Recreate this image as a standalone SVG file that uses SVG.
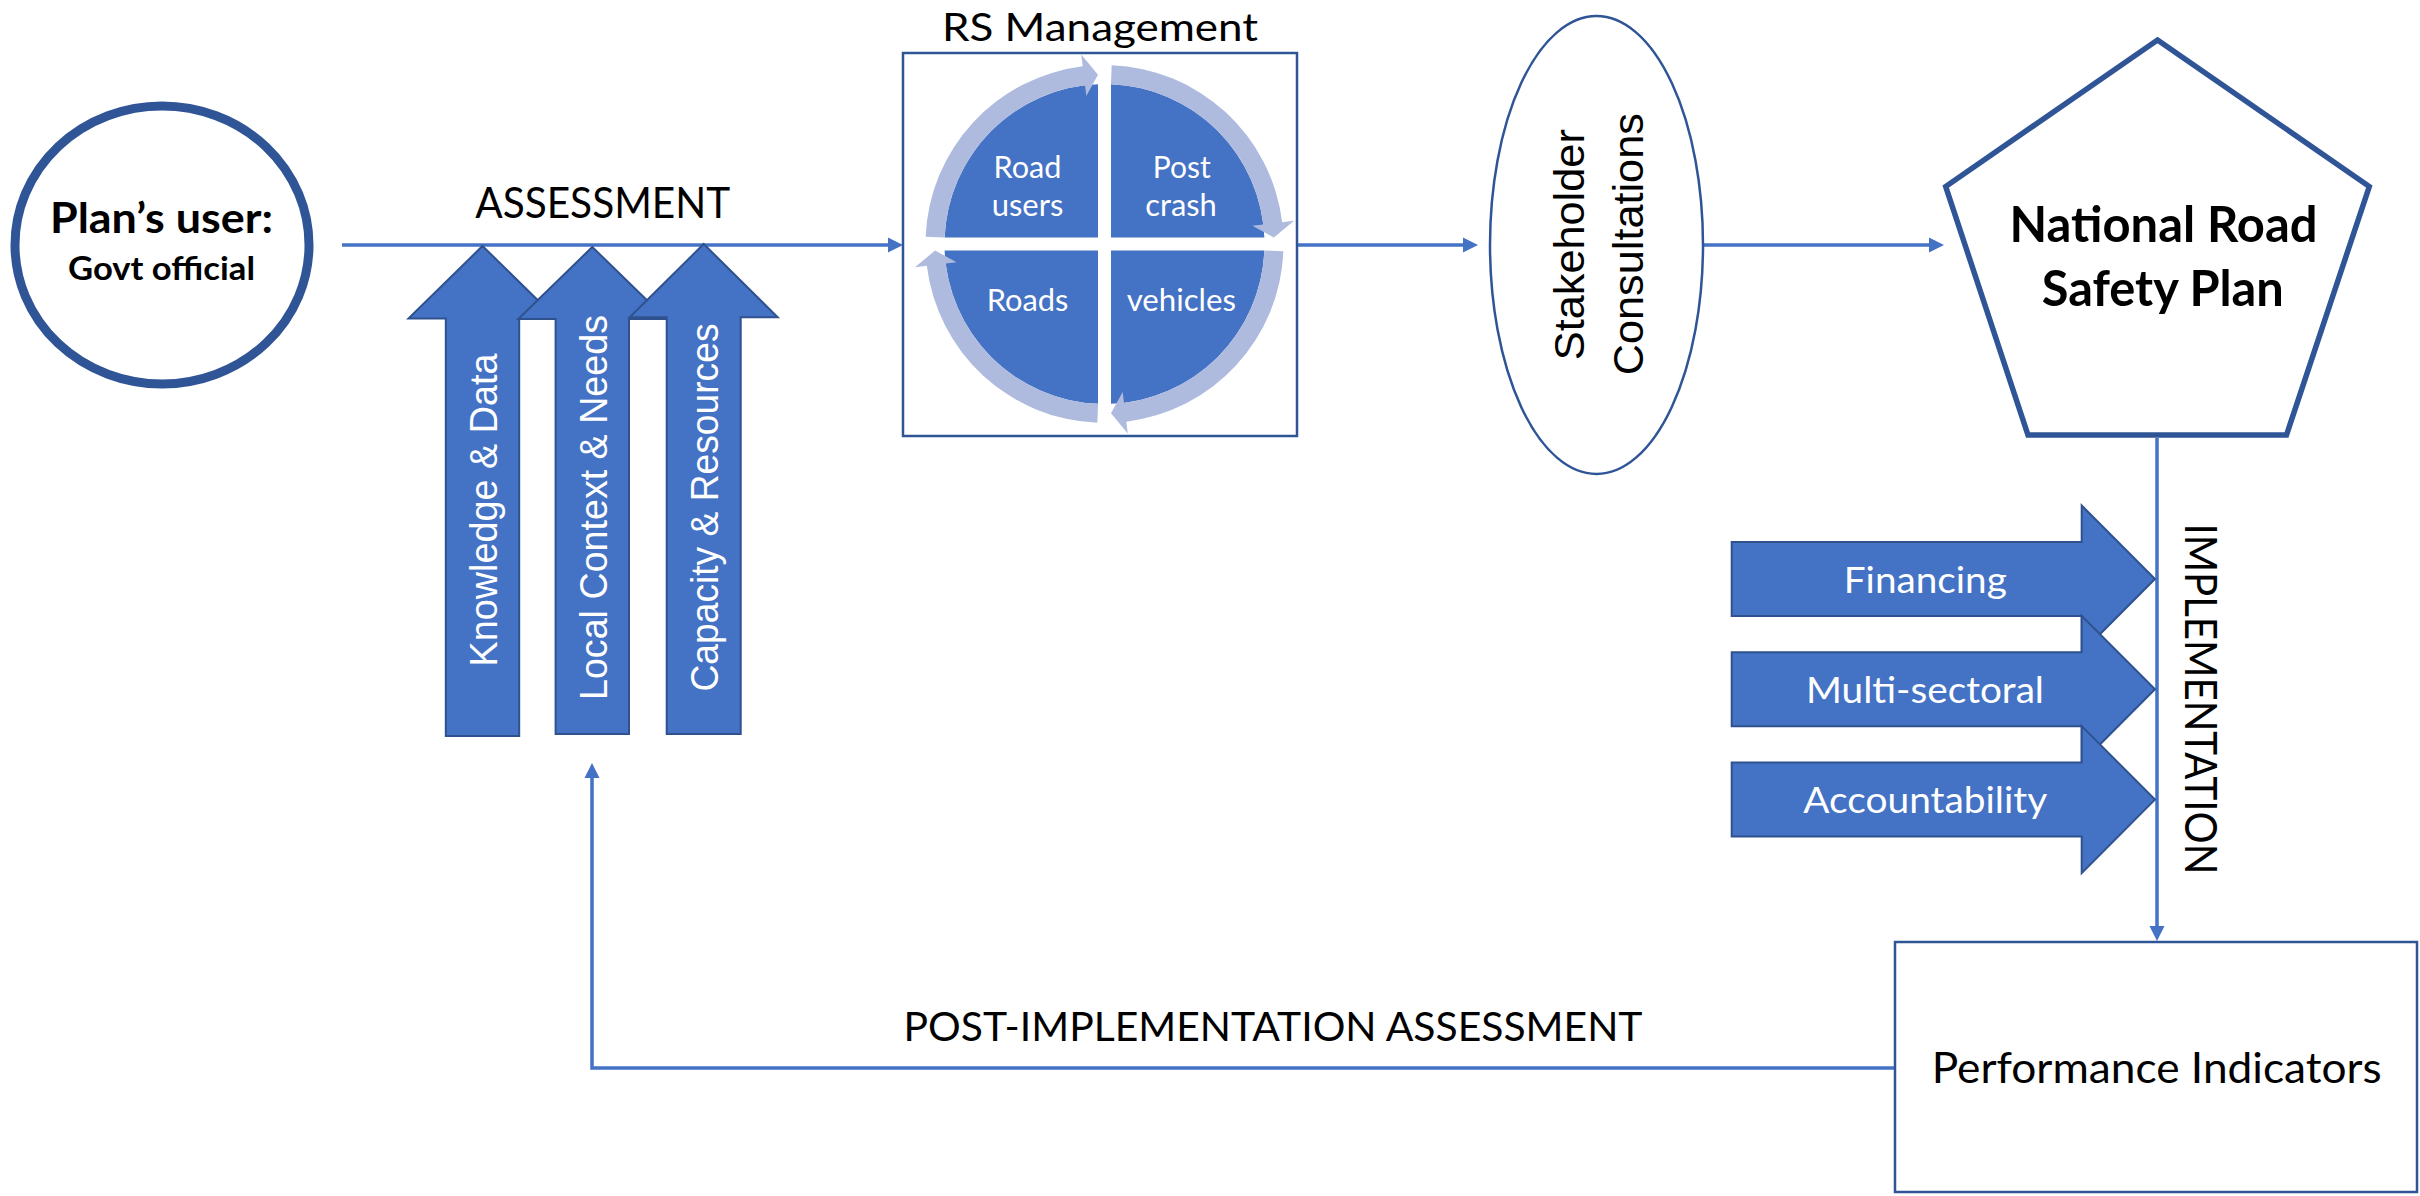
<svg xmlns="http://www.w3.org/2000/svg" width="2420" height="1196" viewBox="0 0 2420 1196">
  <style>
    .cal { font-family: Lato, "Open Sans", "Liberation Sans", sans-serif; }
    .geo { font-family: "Liberation Sans", Arial, sans-serif; }
    .bold { font-weight: bold; }
    .dark { fill: #000000; }
    .light { fill: #FFFFFF; }
    .mid { text-anchor: middle; }
    .node-line { fill: #FFFFFF; stroke: #2F5597; }
    .block { fill: #4472C4; stroke: #2F528F; stroke-width: 2; stroke-linejoin: miter; }
    .quad { fill: #4472C4; }
    .ring { fill: #AEBBDE; }
    .conn { fill: none; stroke: #4472C4; stroke-width: 3.5; }
  </style>
  <defs>
    <marker id="head" viewBox="0 0 15 16" refX="5" refY="8" markerWidth="15" markerHeight="16" markerUnits="userSpaceOnUse" orient="auto">
      <path d="M0,0.5 L15,8 L0,15.5 Z" fill="#4472C4"/>
    </marker>
    <!-- one quarter of the management wheel, top-left, centred on the origin -->
    <path id="quarter" d="M-6.5,-6.5 H-159.87 A160 160 0 0 1 -6.5,-159.87 Z"/>
    <!-- curved arrow running round the top-left quarter, clockwise -->
    <path id="ring-arrow" d="M-178.86,-7.18 A179 179 0 0 1 -21.81,-177.67 L-23.28,-189.58 L-6.51,-169.37 L-18.16,-147.89 L-19.50,-158.81 A160 160 0 0 0 -159.87,-6.42 Z"/>
  </defs>

  <rect x="0" y="0" width="2420" height="1196" fill="#FFFFFF"/>

  <!-- flow lines -->
  <g id="connectors">
    <path class="conn" d="M342,245 H893" marker-end="url(#head)"/>
    <path class="conn" d="M1297,245 H1468" marker-end="url(#head)"/>
    <path class="conn" d="M1703,245 H1934" marker-end="url(#head)"/>
    <path class="conn" d="M2157,438 V931" marker-end="url(#head)"/>
    <path class="conn" d="M1894,1068 H592 V773" marker-end="url(#head)"/>
    <text class="cal dark mid" x="602.7" y="218" font-size="42" textLength="255" lengthAdjust="spacingAndGlyphs">ASSESSMENT</text>
    <text class="cal dark" transform="translate(2185,699) rotate(90)" text-anchor="middle" font-size="44" textLength="351" lengthAdjust="spacingAndGlyphs">IMPLEMENTATION</text>
    <text class="cal dark" x="903.5" y="1041" font-size="41.5" textLength="739" lengthAdjust="spacingAndGlyphs">POST-IMPLEMENTATION ASSESSMENT</text>
  </g>

  <!-- plan user -->
  <g id="node-user">
    <ellipse class="node-line" cx="162" cy="245" rx="147" ry="139" stroke-width="9"/>
    <text class="cal bold dark mid" x="161.5" y="232.7" font-size="41.5" textLength="223" lengthAdjust="spacingAndGlyphs">Plan’s user:</text>
    <text class="cal bold dark mid" x="161.5" y="280" font-size="32.5" textLength="187" lengthAdjust="spacingAndGlyphs">Govt official</text>
  </g>

  <!-- assessment inputs -->
  <g id="input-knowledge">
    <polygon class="block" points="482.5,246 556.5,318.5 519.2,318.5 519.2,736 445.8,736 445.8,318.5 408.5,318.5"/>
    <text class="geo light" transform="translate(497.3,510) rotate(-90)" text-anchor="middle" font-size="38" textLength="313" lengthAdjust="spacingAndGlyphs">Knowledge &amp; Data</text>
  </g>
  <g id="input-context">
    <polygon class="block" points="592.3,247 666.3,319 629,319 629,734 555.6,734 555.6,319 518.3,319"/>
    <text class="geo light" transform="translate(607.3,507.5) rotate(-90)" text-anchor="middle" font-size="38" textLength="385" lengthAdjust="spacingAndGlyphs">Local Context &amp; Needs</text>
  </g>
  <g id="input-capacity">
    <polygon class="block" points="703.7,244 777.7,317.3 740.7,317.3 740.7,734 666.7,734 666.7,317.3 629.7,317.3"/>
    <text class="geo light" transform="translate(718.3,507.5) rotate(-90)" text-anchor="middle" font-size="38" textLength="368" lengthAdjust="spacingAndGlyphs">Capacity &amp; Resources</text>
  </g>

  <!-- road safety management wheel -->
  <g id="node-rs-management">
    <text class="cal dark mid" x="1100" y="41" font-size="39" textLength="316" lengthAdjust="spacingAndGlyphs">RS Management</text>
    <rect x="903" y="53" width="394" height="383" fill="#FFFFFF" stroke="#2F5597" stroke-width="2.5"/>
    <g transform="translate(1104.5,244)">
      <use href="#quarter" class="quad"/>
      <use href="#quarter" class="quad" transform="rotate(90)"/>
      <use href="#quarter" class="quad" transform="rotate(180)"/>
      <use href="#quarter" class="quad" transform="rotate(270)"/>
      <use href="#ring-arrow" class="ring"/>
      <use href="#ring-arrow" class="ring" transform="rotate(90)"/>
      <use href="#ring-arrow" class="ring" transform="rotate(180)"/>
      <use href="#ring-arrow" class="ring" transform="rotate(270)"/>
    </g>
    <text class="cal light mid" x="1027.5" y="178.3" font-size="30" textLength="68" lengthAdjust="spacingAndGlyphs">Road</text>
    <text class="cal light mid" x="1027.5" y="215.5" font-size="30" textLength="71.7" lengthAdjust="spacingAndGlyphs">users</text>
    <text class="cal light mid" x="1181.7" y="178.3" font-size="30" textLength="58" lengthAdjust="spacingAndGlyphs">Post</text>
    <text class="cal light mid" x="1181" y="215.5" font-size="30" textLength="71.7" lengthAdjust="spacingAndGlyphs">crash</text>
    <text class="cal light mid" x="1027.5" y="310.7" font-size="30" textLength="81.7" lengthAdjust="spacingAndGlyphs">Roads</text>
    <text class="cal light mid" x="1181.3" y="311" font-size="30" textLength="109.3" lengthAdjust="spacingAndGlyphs">vehicles</text>
  </g>

  <!-- consultations -->
  <g id="node-stakeholder">
    <ellipse class="node-line" cx="1596.5" cy="245" rx="106.5" ry="229" stroke-width="2.5"/>
    <text class="geo dark" transform="translate(1584,244.7) rotate(-90)" text-anchor="middle" font-size="42" textLength="231" lengthAdjust="spacingAndGlyphs">Stakeholder</text>
    <text class="geo dark" transform="translate(1642.7,244.2) rotate(-90)" text-anchor="middle" font-size="42" textLength="262" lengthAdjust="spacingAndGlyphs">Consultations</text>
  </g>

  <!-- the plan -->
  <g id="node-plan">
    <polygon class="node-line" points="2157.5,40 2369.3,186.5 2286.5,435 2028,435 1945.7,186.5" stroke-width="5.5" stroke-linejoin="miter"/>
    <text class="cal bold dark mid" x="2163.5" y="241.7" font-size="49" textLength="308" lengthAdjust="spacingAndGlyphs">National Road</text>
    <text class="cal bold dark mid" x="2162.8" y="306" font-size="49" textLength="242" lengthAdjust="spacingAndGlyphs">Safety Plan</text>
  </g>

  <!-- implementation drivers -->
  <g id="driver-financing">
    <polygon class="block" points="1731.7,542 2081.7,542 2081.7,505.5 2155,579 2081.7,652.5 2081.7,616 1731.7,616"/>
    <text class="cal light mid" x="1925.3" y="593.3" font-size="37" textLength="163" lengthAdjust="spacingAndGlyphs">Financing</text>
  </g>
  <g id="driver-multisectoral">
    <polygon class="block" points="1731.7,652.3 2081.7,652.3 2081.7,615.8 2155,689.3 2081.7,762.8 2081.7,726.3 1731.7,726.3"/>
    <text class="cal light mid" x="1925" y="703.3" font-size="37" textLength="238" lengthAdjust="spacingAndGlyphs">Multi-sectoral</text>
  </g>
  <g id="driver-accountability">
    <polygon class="block" points="1731.7,762.6 2081.7,762.6 2081.7,726.1 2155,799.6 2081.7,873.1 2081.7,836.6 1731.7,836.6"/>
    <text class="cal light mid" x="1925.3" y="813.3" font-size="37" textLength="244" lengthAdjust="spacingAndGlyphs">Accountability</text>
  </g>

  <!-- monitoring -->
  <g id="node-performance">
    <rect class="node-line" x="1895" y="942" width="522" height="250" stroke-width="2.5"/>
    <text class="cal dark mid" x="2156.7" y="1083.3" font-size="42" textLength="450" lengthAdjust="spacingAndGlyphs">Performance Indicators</text>
  </g>
</svg>
